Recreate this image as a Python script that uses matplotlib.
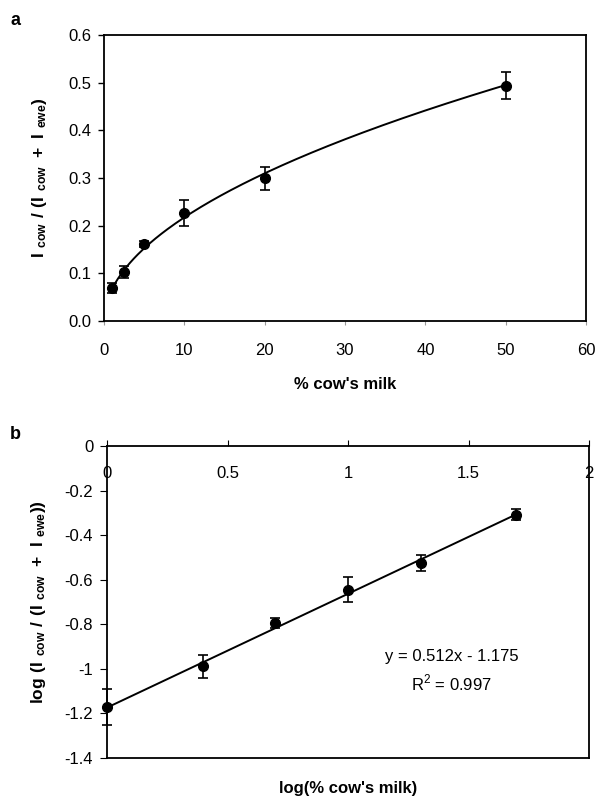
import numpy as np
import matplotlib.pyplot as plt

plt.rcParams['font.family'] = ['Liberation Sans', 'DejaVu Sans']
plt.rcParams['mathtext.fontset'] = 'custom'
plt.rcParams['mathtext.rm'] = 'Liberation Sans'
plt.rcParams['mathtext.bf'] = 'Liberation Sans:bold'
plt.rcParams['axes.unicode_minus'] = False

# data
pct_milk = [1, 2.5, 5, 10, 20, 50]
ratio = [0.069, 0.103, 0.161, 0.227, 0.299, 0.494]
ratio_err = [0.011, 0.013, 0.007, 0.027, 0.025, 0.028]

log_pct = [0.0, 0.398, 0.699, 1.0, 1.301, 1.699]
log_ratio = [-1.173, -0.990, -0.795, -0.645, -0.525, -0.307]
log_err = [0.080, 0.053, 0.022, 0.056, 0.035, 0.025]

slope = 0.512
intercept = -1.175

a_xticks = [0, 10, 20, 30, 40, 50, 60]
a_yticks = [0.0, 0.1, 0.2, 0.3, 0.4, 0.5, 0.6]
b_xticks = [0, 0.5, 1, 1.5, 2]
b_xlabels = ['0', '0.5', '1', '1.5', '2']
b_yticks = [0, -0.2, -0.4, -0.6, -0.8, -1, -1.2, -1.4]
b_ylabels = ['0', '-0.2', '-0.4', '-0.6', '-0.8', '-1', '-1.2', '-1.4']

fig = plt.figure(figsize=(5.98, 8), dpi=100)

# panel a
ax1 = fig.add_axes([0.174, 0.599, 0.806, 0.357])
xs = np.linspace(1, 50, 200)
ax1.plot(xs, 10 ** intercept * xs ** slope, color='black', lw=1.4)
ax1.errorbar(pct_milk, ratio, yerr=ratio_err, fmt='o', color='black',
             ms=7, capsize=3.5, elinewidth=1.2, capthick=1.2)
ax1.set_xlim(0, 60)
ax1.set_ylim(0, 0.6)
ax1.set_xticks(a_xticks)
ax1.set_yticks(a_yticks)
ax1.set_yticklabels(['%.1f' % v for v in a_yticks])
ax1.tick_params(axis='x', direction='out', length=3, width=0.8,
                color='0.6', labelsize=12, pad=13)
ax1.tick_params(axis='y', direction='out', length=4, width=1,
                labelsize=12, pad=5)
ax1.set_xlabel("% cow's milk", fontsize=12, fontweight='bold', labelpad=14)
ax1.set_ylabel(r'$\mathbf{I\ _{cow}\ /\ (I\ _{cow}\ +\ I\ _{ewe})}$',
               fontsize=12.5, labelpad=14)
for s in ax1.spines.values():
    s.set_linewidth(1.3)
fig.text(0.017, 0.985, 'a', fontsize=13, fontweight='bold', va='top')

# panel b
ax2 = fig.add_axes([0.179, 0.053, 0.806, 0.389])
xl = np.linspace(0, max(log_pct), 50)
ax2.plot(xl, slope * xl + intercept, color='black', lw=1.4)
ax2.errorbar(log_pct, log_ratio, yerr=log_err, fmt='o', color='black',
             ms=7, capsize=3.5, elinewidth=1.2, capthick=1.2, clip_on=False)
ax2.set_xlim(0, 2)
ax2.set_ylim(-1.4, 0)
ax2.set_xticks(b_xticks)
ax2.set_xticklabels(b_xlabels)
ax2.set_yticks(b_yticks)
ax2.set_yticklabels(b_ylabels)
ax2.tick_params(axis='x', top=True, bottom=False, labeltop=True,
                labelbottom=False, direction='out', length=4, pad=-29,
                labelsize=12)
ax2.tick_params(axis='y', direction='out', length=5, labelsize=12, pad=5)
ax2.set_xlabel("log(% cow's milk)", fontsize=12, fontweight='bold', labelpad=17)
ax2.set_ylabel(r'$\mathbf{log\ (I\ _{cow}\ /\ (I\ _{cow}\ +\ I\ _{ewe}))}$',
               fontsize=12.5, labelpad=12)
ax2.text(1.43, -0.945, 'y = 0.512x - 1.175', fontsize=12, ha='center', va='center')
ax2.text(1.43, -1.065, r'R$^2$ = 0.997', fontsize=12, ha='center', va='center')
for s in ax2.spines.values():
    s.set_linewidth(1.3)
fig.text(0.017, 0.467, 'b', fontsize=13, fontweight='bold', va='top')

fig.savefig('out.png', dpi=100)
